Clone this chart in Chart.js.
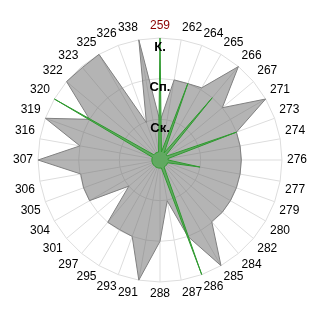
<!DOCTYPE html>
<html>
<head>
<meta charset="utf-8">
<script src="https://cdn.jsdelivr.net/npm/chart.js@4.4.1/dist/chart.umd.min.js"></script>
<style>
  html, body { margin: 0; background: #fff; }
  #wrap { width: 320px; height: 320px; }
</style>
</head>
<body>
<div id="wrap"><canvas id="chart"></canvas></div>
<script>
const labels = ["259", "262", "264", "265", "266", "267", "271", "273", "274", "276", "277", "279",
                "280", "282", "284", "285", "286", "287", "288", "291", "293", "295", "297", "301",
                "304", "305", "306", "307", "316", "319", "320", "322", "323", "325", "326", "338"];
// уровни шкалы: 1 = Ск., 2 = Сп., 3 = К.
const levels = ["", "Ск.", "Сп.", "К."];
const grayValues = [0.95, 2, 2, 2.05, 3, 2, 3, 2, 2, 2, 2, 2,
                    2, 2, 1.98, 3, 2, 1.02, 2, 3, 2, 1.98, 2, 1,
                    2, 2, 1.98, 3, 2, 3, 2, 3, 2.97, 3, 0.98, 3];
const greenValues = [3, 0.2, 2, 0.2, 2, 0.2, 0.2, 2, 0.2, 0.2, 1, 0.2,
                     0.2, 0.2, 0.2, 0.2, 3, 0.2, 0.2, 0.2, 0.2, 0.2, 0.2, 0.2,
                     0.2, 0.2, 0.2, 0.2, 0.2, 0.2, 3, 0.2, 0.2, 0.2, 0.2, 0.2];

const FONT = "'Liberation Sans', Arial, sans-serif";

// подписи уровней поверх данных, чуть внутрь от колец
const levelLabels = {
    id: "levelLabels",
    afterDatasetsDraw(chart) {
        const s = chart.scales.r;
        const ctx = chart.ctx;
        ctx.save();
        ctx.font = "bold 13px " + FONT;
        ctx.fillStyle = "#000";
        ctx.textAlign = "center";
        ctx.textBaseline = "middle";
        levels.forEach((t, v) => {
            if (!t) return;
            const d = s.getDistanceFromCenterForValue(v);
            ctx.fillText(t, s.xCenter, s.yCenter - d + 9);
        });
        ctx.restore();
    }
};

new Chart(document.getElementById("chart"), {
    type: "radar",
    data: {
        labels: labels,
        datasets: [
            {
                data: greenValues,
                borderColor: "#2f9a2f",
                backgroundColor: "rgba(90,170,90,0.9)",
                borderWidth: 1,
                pointRadius: 0,
                order: 0
            },
            {
                data: grayValues,
                borderColor: "#808080",
                backgroundColor: "rgba(105,105,105,0.5)",
                borderWidth: 1,
                pointRadius: 0,
                order: 1
            }
        ]
    },
    options: {
        responsive: true,
        maintainAspectRatio: false,
        animation: false,
        layout: { padding: 13 },
        plugins: { legend: { display: false }, tooltip: { enabled: false } },
        elements: { line: { tension: 0 } },
        scales: {
            r: {
                min: 0,
                max: 3,
                ticks: { stepSize: 1, display: false },
                grid: { color: "#dddddd", lineWidth: 1 },
                angleLines: { color: "#dddddd", lineWidth: 1 },
                pointLabels: {
                    font: { size: 12, family: FONT },
                    color: (c) => (c.index === 0 ? "#8b0000" : "#000"),
                    padding: 5
                }
            }
        }
    },
    plugins: [levelLabels]
});
</script>
</body>
</html>
